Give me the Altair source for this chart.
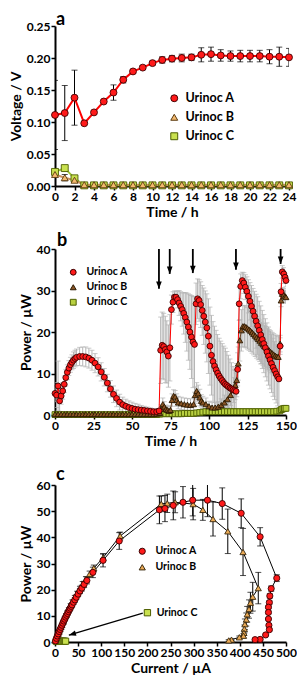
import altair as alt
import pandas as pd

FONT = "Lato"
SERIES = ["Urinoc A", "Urinoc B", "Urinoc C"]

# ---------------- Panel a : Voltage vs time ----------------
a_time = [0, 1, 2, 3, 4, 5, 6, 7, 8, 9, 10, 11, 12, 13, 14, 15, 16, 17, 18, 19, 20, 21, 22, 23, 24]
a_A = [0.111, 0.114, 0.138, 0.098, 0.115, 0.132, 0.146, 0.166, 0.179, 0.185, 0.192, 0.197, 0.199,
       0.200, 0.201, 0.205, 0.206, 0.204, 0.203, 0.203, 0.203, 0.203, 0.202, 0.202, 0.201]
a_A_sd = [0.054, 0.043, 0.043, 0.002, 0.002, 0.002, 0.012, 0.005, 0.003, 0.003, 0.003, 0.005, 0.005,
          0.006, 0.005, 0.011, 0.011, 0.009, 0.008, 0.009, 0.009, 0.009, 0.011, 0.015, 0.014]
a_B = [0.018, 0.013, 0.009, 0.002, 0.002, 0.002, 0.002, 0.002, 0.002, 0.002, 0.002, 0.002, 0.002,
       0.002, 0.002, 0.002, 0.002, 0.002, 0.002, 0.002, 0.002, 0.002, 0.002, 0.002, 0.002]
a_B_sd = [0.003, 0.005, 0.003, 0.0, 0.0, 0.0, 0.0, 0.0, 0.0, 0.0, 0.0, 0.0, 0.0,
          0.0, 0.0, 0.0, 0.0, 0.0, 0.0, 0.0, 0.0, 0.0, 0.0, 0.0, 0.0]
a_C = [0.022, 0.028, 0.012, 0.001, 0.001, 0.001, 0.001, 0.001, 0.001, 0.001, 0.001, 0.001, 0.001,
       0.001, 0.001, 0.001, 0.001, 0.001, 0.001, 0.001, 0.001, 0.001, 0.001, 0.001, 0.001]
a_C_sd = [0.004, 0.004, 0.002, 0.0, 0.0, 0.0, 0.0, 0.0, 0.0, 0.0, 0.0, 0.0, 0.0,
          0.0, 0.0, 0.0, 0.0, 0.0, 0.0, 0.0, 0.0, 0.0, 0.0, 0.0, 0.0]

# ---------------- Panel b : Power vs time ----------------
b_A_time = [0, 1, 2, 3, 4, 5, 6, 7, 8, 9, 10, 11, 12, 13, 14,
            16, 18, 20, 22, 24, 26, 28, 30, 32, 34, 36, 38, 40, 42, 44, 46, 48, 50, 52, 54, 56, 58, 60, 62, 64, 66, 67.6,
            68.6, 69.6, 70.6, 71.6, 72.6, 73.6, 74.6, 75.6, 76.6, 77.6,
            78.6, 79.6, 80.6, 81.6, 82.6, 83.6, 84.6, 85.6, 86.6, 87.6, 88.6, 89.6, 90.6,
            91.6, 92.6, 93.6, 94.6, 95.6, 96.6, 97.6, 98.6, 99.6, 100.6, 101.6, 102.6, 103.6, 104.6,
            105.6, 106.6, 107.6, 108.6, 109.6, 110.6, 111.6, 112.6, 113.6, 114.6, 115.6, 116.6, 117.6,
            118.6, 119.6, 120.6, 121.6, 122.6, 123.6, 124.6, 125.6, 126.6, 127.6, 128.6, 129.6, 130.6,
            131.6, 132.6, 133.6, 134.6, 135.6, 136.6, 137.6, 138.6, 139.6, 140.6, 141.6, 142.6, 143.6, 144.6,
            145.4, 146.2, 146.8, 147.6, 148.6, 149.4, 150.0]
b_A = [5.2, 4.8, 7.0, 3.4, 4.6, 5.8, 7.4, 9.0, 10.3, 11.3, 12.1, 12.7, 13.2, 13.6, 13.9,
       14.1, 14.1, 14.0, 13.7, 13.2, 12.5, 11.6, 10.4, 9.1, 7.7, 6.3, 5.0, 4.0, 3.1, 2.5, 2.1, 1.8, 1.6, 1.4, 1.3, 1.2, 1.1, 1.0, 0.9, 0.8, 0.8, 1.0,
       15.6, 16.8, 16.5, 15.8, 15.2, 14.2, 16.2, 25.4, 27.2, 28.4,
       28.4, 27.8, 27.0, 26.2, 25.4, 24.5, 23.5, 22.4, 21.2, 20.0, 18.8, 17.6, 17.0,
       26.8, 28.0, 27.6, 26.6, 25.2, 23.8, 22.4, 21.0, 19.0, 16.6, 14.4, 12.9, 11.8, 10.9,
       10.1, 9.4, 8.8, 8.3, 7.8, 7.4, 7.1, 6.8, 6.5, 6.3, 6.1, 5.9, 5.7,
       11.0, 26.8, 31.0, 32.4, 31.8, 30.8, 29.8, 28.6, 27.4, 26.2, 25.0, 23.8, 22.6,
       21.5, 20.4, 19.3, 18.2, 17.2, 16.2, 15.2, 14.2, 13.3, 12.4, 11.5, 10.7, 9.9, 9.2,
       8.7, 16.6, 29.7, 34.5, 34.0, 33.2, 32.4]
b_A_sd = [2, 3, 6, 3, 2, 2, 2, 2, 1.8, 1.8, 1.8, 1.8, 2, 2, 2,
          2.2, 2.3, 2.4, 2.4, 2.4, 2.3, 2.2, 2.2, 2.1, 2.1, 2.0, 2.0, 2.0, 1.9, 1.8, 1.7, 1.6, 1.5, 1.4, 1.3, 1.1, 1.0, 0.9, 0.8, 0.7, 0.6, 0.5,
          8, 8, 8, 8, 7.5, 7.5, 8, 3.5, 2.5, 1.5,
          1.5, 2, 3, 3.5, 4, 5, 6, 7, 8, 9, 10, 11, 11.5,
          5, 4.8, 5, 5.5, 6, 6.8, 7.5, 8.2, 9, 9.4, 9.6, 9.6, 9.6, 9.5,
          9.3, 9.1, 9, 8.9, 8.8, 8.7, 8.2, 7.6, 7, 6.3, 5.6, 5, 4.4,
          4, 4, 3, 2, 2.5, 3, 3.5, 4, 4.5, 5, 5.5, 6, 6.5,
          7, 7, 7, 7, 7, 7, 7, 7, 7, 7, 7, 7, 7, 7,
          7, 2, 2, 1.5, 1.5, 1.5, 1.5]
b_B_time = [0, 2, 4, 6, 8, 10, 12, 14, 16, 18, 20, 22, 24, 26, 28, 30, 32, 34, 36, 38, 40, 42, 44, 46, 48, 50,
            52, 54, 56, 58, 60, 62, 64, 66,
            68, 69, 70, 71, 72, 73, 74, 75, 76, 77, 78, 79, 80, 82, 84, 86, 88, 90,
            91, 92, 93, 94, 95, 96, 98, 100, 102, 104, 106, 108, 110, 112, 114, 116, 117, 118,
            119, 120, 121, 122, 123, 124, 125, 126, 127, 128, 129, 130, 131, 132, 133, 134, 135, 136,
            137, 138, 139, 140, 141, 142, 143, 144, 145, 146.2, 146.8, 147.6, 148.6, 149.4, 150.0]
b_B = [0.2, 0.2, 0.2, 0.2, 0.2, 0.2, 0.2, 0.2, 0.2, 0.2, 0.2, 0.2, 0.2, 0.2, 0.2, 0.2, 0.2, 0.2, 0.2, 0.2, 0.2, 0.2, 0.2, 0.2, 0.2, 0.2,
       0.2, 0.2, 0.2, 0.2, 0.2, 0.2, 0.2, 0.3,
       0.5, 1.5, 2.6, 2.0, 1.4, 1.2, 1.0, 1.2, 3.6, 4.6, 4.4, 3.6, 3.0, 2.8, 2.6, 2.5, 2.4, 2.6,
       4.8, 5.8, 5.2, 4.2, 3.4, 3.0, 2.6, 2.1, 1.8, 1.8, 2.0, 2.4, 3.0, 3.8, 4.8, 6.0, 7.2, 8.4,
       12.4, 18.0, 20.4, 21.4, 21.4, 21.2, 20.9, 20.6, 20.3, 19.9, 19.5, 19.1, 18.7, 18.3, 17.9, 17.4, 17.0, 16.6,
       16.3, 15.9, 15.6, 15.2, 14.9, 14.6, 14.3, 14.1, 14.0, 17.2, 27.6, 29.2, 29.0, 28.6, 28.4]
b_B_sd = [0.1, 0.1, 0.1, 0.1, 0.1, 0.1, 0.1, 0.1, 0.1, 0.1, 0.1, 0.1, 0.1, 0.1, 0.1, 0.1, 0.1, 0.1, 0.1, 0.1, 0.1, 0.1, 0.1, 0.1, 0.1, 0.1,
          0.1, 0.1, 0.1, 0.1, 0.1, 0.1, 0.1, 0.2,
          0.5, 1, 1.5, 1.2, 1, 1, 1, 1, 1.5, 1.5, 1.5, 1.5, 1.5, 1.5, 1.5, 1.5, 1.5, 1.5,
          2, 2, 2, 2, 1.5, 1.5, 1.5, 1.2, 1.2, 1.2, 1.2, 1.5, 1.8, 2, 2.5, 3, 3.5, 4,
          4, 5, 5, 5, 5, 5, 5, 5, 5, 5, 5, 5, 5, 5, 5, 5, 5, 5,
          5, 5, 5, 5, 5, 5, 5, 5, 5, 2, 1.5, 1.5, 1.5, 1.5, 1.5]
b_C_time = [0, 3, 6, 9, 12, 15, 18, 21, 24, 27, 30, 33, 36, 39, 42, 45, 48, 51, 54, 57, 60, 63, 66,
            68, 70, 72, 74, 76, 78, 80, 82, 84, 86, 88, 90, 92, 94, 96, 98, 100, 102, 104, 106, 108,
            110, 112, 114, 116, 118, 120, 122, 124, 126, 128, 130, 132, 134, 136, 138, 140, 142, 144,
            146, 147, 148, 149, 150]
b_C = [0.1, 0.1, 0.1, 0.1, 0.1, 0.1, 0.1, 0.1, 0.1, 0.1, 0.1, 0.1, 0.1, 0.1, 0.1, 0.1, 0.1, 0.1, 0.1, 0.1, 0.1, 0.1, 0.1,
       0.2, 0.3, 0.3, 0.3, 0.3, 0.3, 0.3, 0.3, 0.4, 0.4, 0.4, 0.4, 0.5, 0.6, 0.7, 0.8, 0.8, 0.8, 0.8, 0.8, 0.8,
       0.8, 0.8, 0.8, 0.8, 0.8, 0.8, 0.8, 0.8, 0.8, 0.8, 0.8, 0.8, 0.8, 0.8, 0.8, 0.8, 0.8, 0.9,
       1.0, 1.3, 1.5, 1.6, 1.6]
b_C_sd = [0.05, 0.05, 0.05, 0.05, 0.05, 0.05, 0.05, 0.05, 0.05, 0.05, 0.05, 0.05, 0.05, 0.05, 0.05, 0.05, 0.05, 0.05, 0.05, 0.05, 0.05, 0.05, 0.05,
          0.1, 0.1, 0.1, 0.1, 0.1, 0.1, 0.1, 0.1, 0.1, 0.1, 0.1, 0.1, 0.1, 0.1, 0.1, 0.1, 0.1, 0.1, 0.1, 0.1, 0.1,
          0.1, 0.1, 0.1, 0.1, 0.1, 0.1, 0.1, 0.1, 0.1, 0.1, 0.1, 0.1, 0.1, 0.1, 0.1, 0.1, 0.1, 0.1,
          0.2, 0.3, 0.3, 0.3, 0.3]

# feeding arrows (time, top, tip)
arrow_time = [67.5, 74.5, 89.5, 117.5, 146.5]
arrow_top = [40, 40, 40, 40, 40]
arrow_tip = [30.4, 34.0, 34.2, 35.0, 36.4]

# ---------------- Panel c : Power curves ----------------
c_A_cur = [1, 3, 5, 7, 9, 11, 13, 15, 17, 19, 21, 23, 25, 27, 29, 31, 33, 35, 37, 40, 43, 46, 50, 54, 58, 63, 69,
           82, 104, 139, 226, 238, 256, 277, 298, 330, 362, 403, 444, 480,
           468, 465, 464, 462, 462, 462, 463, 464, 456, 444, 433]
c_A_pow = [0.4, 1.4, 2.3, 3.1, 4.0, 4.8, 5.6, 6.4, 7.2, 8.0, 8.7, 9.5, 10.2, 10.9, 11.6, 12.3, 12.9, 13.6, 14.2, 15.2, 16.1, 17.1, 18.3, 19.5, 20.6, 22.0, 23.5,
           26.6, 31.2, 38.6, 50.5, 51.0, 52.2, 53.4, 54.2, 54.2, 52.9, 49.2, 40.2, 24.4,
           20.4, 17.6, 15.1, 13.3, 11.3, 8.8, 6.4, 4.7, 2.7, 1.0, 0.9]
c_A_sd = [0.2, 0.2, 0.2, 0.3, 0.3, 0.3, 0.4, 0.4, 0.4, 0.5, 0.5, 0.5, 0.6, 0.6, 0.6, 0.7, 0.7, 0.7, 0.8, 0.8, 0.9, 0.9, 1.0, 1.0, 1.1, 1.2, 1.3,
          2.0, 2.5, 3.2, 5.3, 5.0, 5.5, 6.0, 6.0, 6.3, 6.0, 5.5, 3.5, 1.3,
          1.0, 0.8, 0.6, 0.5, 0.5, 0.4, 0.4, 0.4, 0.3, 0.3, 0.3]
c_B_cur = [1, 3, 5, 7, 9, 11, 13, 15, 18, 21, 24, 27, 30, 34, 38, 43, 48, 54, 60, 67, 75, 84, 104, 141,
           230, 243, 260, 299, 320, 342, 374, 407, 440,
           428, 423, 420, 416, 414, 411, 410, 409, 408, 399, 382, 376]
c_B_pow = [0.5, 1.4, 2.3, 3.2, 4.0, 4.9, 5.8, 6.6, 7.8, 9.1, 10.3, 11.4, 12.5, 14.0, 15.4, 17.0, 18.6, 20.4, 22.1, 24.0, 26.0, 28.2, 32.2, 40.5,
           52.8, 53.0, 53.4, 52.7, 50.5, 47.0, 42.3, 34.4, 20.6,
           17.3, 15.0, 12.6, 10.6, 8.6, 6.8, 5.0, 3.5, 2.4, 1.8, 0.9, 0.6]
c_B_sd = [0.2, 0.2, 0.2, 0.3, 0.3, 0.3, 0.4, 0.4, 0.4, 0.5, 0.5, 0.6, 0.6, 0.7, 0.7, 0.8, 0.8, 0.9, 1.0, 1.0, 1.1, 1.2, 1.5, 1.5,
          3.0, 3.5, 4.0, 6.0, 4.0, 6.5, 8.5, 9.0, 6.0,
          5.5, 4.0, 3.5, 3.0, 2.5, 2.0, 1.5, 1.0, 0.8, 0.5, 0.3, 0.3]
c_C_cur = [3, 6, 9, 11, 14, 17, 19, 21, 23]
c_C_pow = [0.2, 0.3, 0.3, 0.3, 0.3, 0.3, 0.3, 0.3, 0.3]
c_C_sd = [0.1, 0.1, 0.1, 0.1, 0.1, 0.1, 0.1, 0.1, 0.1]

# annotation "Urinoc C" with arrow (current, power)
c_note_label = ["Urinoc C"]
c_note_cur = [200]
c_note_pow = [11.2]
c_note_text_cur = [220]
c_arrow_start = [190]
c_arrow_start_pow = [11.0]
c_arrow_end = [30]
c_arrow_end_pow = [2.6]

panel_letters = ["a", "b", "c"]


def long_df(specs):
    rows = []
    for name, xs, ys, sds in specs:
        for i, (x, y, s) in enumerate(zip(xs, ys, sds)):
            rows.append(dict(series=name, x=x, y=y, lo=y - s, hi=y + s, idx=i))
    return pd.DataFrame(rows)


def caps_df(df):
    lo = df[["series", "x", "lo"]].rename(columns={"lo": "cap"})
    hi = df[["series", "x", "hi"]].rename(columns={"hi": "cap"})
    return pd.concat([lo, hi], ignore_index=True)


def make_panel(df, xdom, ydom, xvals, yvals, yfmt, xtitle, ytitle, letter, letter_dx, letter_dy, w, h,
               line_colors, line_width, fills, strokes, shapes, psize, err_color, cap_size,
               legend, line_series, point_order, extra=None):
    def X(f):
        return alt.X(f, type="quantitative", scale=alt.Scale(domain=xdom, nice=False, zero=False),
                     axis=alt.Axis(values=xvals, title=xtitle, labelOverlap=False, labelFlush=False))

    def Y(f):
        return alt.Y(f, type="quantitative", scale=alt.Scale(domain=ydom, nice=False, zero=False),
                     axis=alt.Axis(values=yvals, title=ytitle, format=yfmt, labelFlush=False))

    ldf = df[df["series"].isin(line_series)]
    lines = alt.Chart(ldf).mark_line(strokeWidth=line_width).encode(
        x=X("x"), y=Y("y"),
        color=alt.Color("series:N", scale=alt.Scale(domain=SERIES, range=line_colors), legend=None),
        order=alt.Order("idx:Q"),
    )
    edf = df[df["hi"] - df["lo"] > 0.0001]
    rules = alt.Chart(edf).mark_rule(color=err_color, strokeWidth=1, clip=True).encode(
        x=X("x"), y=Y("lo"), y2="hi:Q")
    caps = alt.Chart(caps_df(edf)).mark_tick(color=err_color, thickness=1, size=cap_size,
                                             orient="horizontal", clip=True).encode(x=X("x"), y=Y("cap"))
    pdf = pd.concat([df[df["series"] == s] for s in point_order], ignore_index=True)
    pts = alt.Chart(pdf).mark_point(filled=True, size=psize, strokeWidth=0.9, opacity=1).encode(
        x=X("x"), y=Y("y"),
        fill=alt.Fill("series:N", scale=alt.Scale(domain=SERIES, range=fills), legend=legend),
        stroke=alt.Stroke("series:N", scale=alt.Scale(domain=SERIES, range=strokes), legend=legend),
        shape=alt.Shape("series:N", scale=alt.Scale(domain=SERIES, range=shapes), legend=legend),
    )
    lab = alt.Chart(pd.DataFrame({"letter": [letter]})).mark_text(
        font=FONT, fontWeight="bold", fontSize=18, color="black", align="left", baseline="alphabetic"
    ).encode(x=alt.value(letter_dx), y=alt.value(letter_dy), text="letter:N")
    layers = [rules, caps, lines, pts]
    if extra is not None:
        layers += extra(X, Y)
    layers.append(lab)
    return alt.layer(*layers).properties(width=w, height=h).resolve_scale(
        color="independent", fill="independent", stroke="independent", shape="independent")


def leg(x, y, fs, rowpad, size, offset, values=None):
    kw = dict(orient="none", legendX=x, legendY=y, title=None, labelFontSize=fs,
              labelFont=FONT, labelFontWeight="bold", labelColor="black",
              symbolSize=size, rowPadding=rowpad, padding=0, labelOffset=offset, symbolStrokeWidth=1)
    if values is not None:
        kw["values"] = values
    return alt.Legend(**kw)


# ---- panel a
dfa = long_df([("Urinoc C", a_time, a_C, a_C_sd), ("Urinoc B", a_time, a_B, a_B_sd), ("Urinoc A", a_time, a_A, a_A_sd)])
panel_a = make_panel(
    dfa, [0, 24], [0, 0.25], list(range(0, 25, 2)), [0, 0.05, 0.1, 0.15, 0.2, 0.25], ".2f",
    "Time / h", "Voltage / V", panel_letters[0], 1, -1, 234, 160,
    ["#ff0000", "#c89060", "#9cc234"], 2,
    ["#ff1a1a", "#f3b96e", "#c9e14f"], ["#400000", "#5a3a10", "#4d5e00"],
    ["circle", "triangle-up", "square"], 48, "black", 6,
    leg(113, 66, 12.5, 6, 48, 5), SERIES, ["Urinoc C", "Urinoc B", "Urinoc A"])

# ---- panel b
dfb = long_df([("Urinoc C", b_C_time, b_C, b_C_sd), ("Urinoc B", b_B_time, b_B, b_B_sd), ("Urinoc A", b_A_time, b_A, b_A_sd)])
arrows_df = pd.DataFrame({"x": arrow_time, "top": arrow_top, "tip": arrow_tip})


def b_extra(X, Y):
    shaft = alt.Chart(arrows_df).mark_rule(color="black", strokeWidth=1.8).encode(
        x=X("x"), y=Y("top"), y2="tip:Q")
    head = alt.Chart(arrows_df).mark_point(
        shape="M0,0L-1,-2.6L1,-2.6Z", filled=True, color="black", size=32, opacity=1).encode(
        x=X("x"), y=Y("tip"))
    return [shaft, head]


panel_b = make_panel(
    dfb, [0, 150], [0, 40], [0, 25, 50, 75, 100, 125, 150], [0, 10, 20, 30, 40], "d",
    "Time / h", "Power / \u00b5W", panel_letters[1], 2, -3, 231, 166,
    ["#ff0000", "#6b4020", "#8aa41e"], 1,
    ["#ff1a1a", "#8a5526", "#b8d040"], ["#3a0000", "#2a1800", "#4d5e00"],
    ["circle", "triangle-up", "square"], 34, "#b4b4b4", 5,
    leg(13, 18, 10.5, 4, 34, 8), SERIES, ["Urinoc C", "Urinoc B", "Urinoc A"], b_extra)

# ---- panel c
dfc = long_df([("Urinoc C", c_C_cur, c_C_pow, c_C_sd), ("Urinoc B", c_B_cur, c_B_pow, c_B_sd), ("Urinoc A", c_A_cur, c_A_pow, c_A_sd)])
note_df = pd.DataFrame({"label": c_note_label, "x": c_note_cur, "y": c_note_pow, "tx": c_note_text_cur})
arrow_c = pd.DataFrame({"x": c_arrow_start, "y": c_arrow_start_pow, "x2": c_arrow_end, "y2": c_arrow_end_pow})


def c_extra(X, Y):
    line = alt.Chart(arrow_c).mark_rule(color="black", strokeWidth=1.3).encode(
        x=X("x"), y=Y("y"), x2="x2:Q", y2="y2:Q")
    head = alt.Chart(arrow_c).mark_point(
        shape="M0,0L-1,2.6L1,2.6Z", filled=True, color="black", size=30, opacity=1, angle=254).encode(
        x=X("x2"), y=Y("y2"))
    sq = alt.Chart(note_df).mark_point(shape="square", filled=True, fill="#c9e14f", stroke="#4d5e00",
                                       strokeWidth=1, size=40, opacity=1).encode(x=X("x"), y=Y("y"))
    txt = alt.Chart(note_df).mark_text(align="left", baseline="middle", font=FONT, fontWeight="bold",
                                       fontSize=10.5, color="black").encode(
        x=X("tx"), y=Y("y"), text="label:N")
    return [line, head, sq, txt]


panel_c = make_panel(
    dfc, [0, 500], [0, 60], list(range(0, 501, 50)), [0, 10, 20, 30, 40, 50, 60], "d",
    "Current / \u00b5A", "Power / \u00b5W", panel_letters[2], 1, -5, 231, 157,
    ["#000000", "#000000", "#8aa41e"], 1,
    ["#ff1a1a", "#eaa955", "#c9e14f"], ["#3a0000", "#3a2a10", "#4d5e00"],
    ["circle", "triangle-up", "square"], 38, "black", 6,
    leg(82, 61, 10.5, 5, 38, 8, ["Urinoc A", "Urinoc B"]), ["Urinoc A", "Urinoc B"],
    ["Urinoc C", "Urinoc B", "Urinoc A"], c_extra)

RES = dict(color="independent", fill="independent", stroke="independent", shape="independent")
LRES = dict(fill="independent", stroke="independent", shape="independent")

top_two = alt.vconcat(panel_a, panel_b, spacing=13).resolve_scale(**RES).resolve_legend(**LRES)
chart = alt.vconcat(top_two, panel_c, spacing=18).resolve_scale(**RES).resolve_legend(
    **LRES).properties(
    padding={"left": 1, "top": 3, "right": 0, "bottom": 0}
).configure_axis(
    labelFont=FONT, labelFontWeight="bold", labelFontSize=12, labelColor="black",
    titleFont=FONT, titleFontWeight="bold", titleFontSize=14, titleColor="black",
    domainColor="black", domainWidth=2, tickColor="black", tickWidth=1.5, tickSize=4,
    grid=False, labelPadding=1, titlePadding=3,
).configure_view(stroke=None)

chart.save("out.html", embed_options={"renderer": "svg", "actions": False})
